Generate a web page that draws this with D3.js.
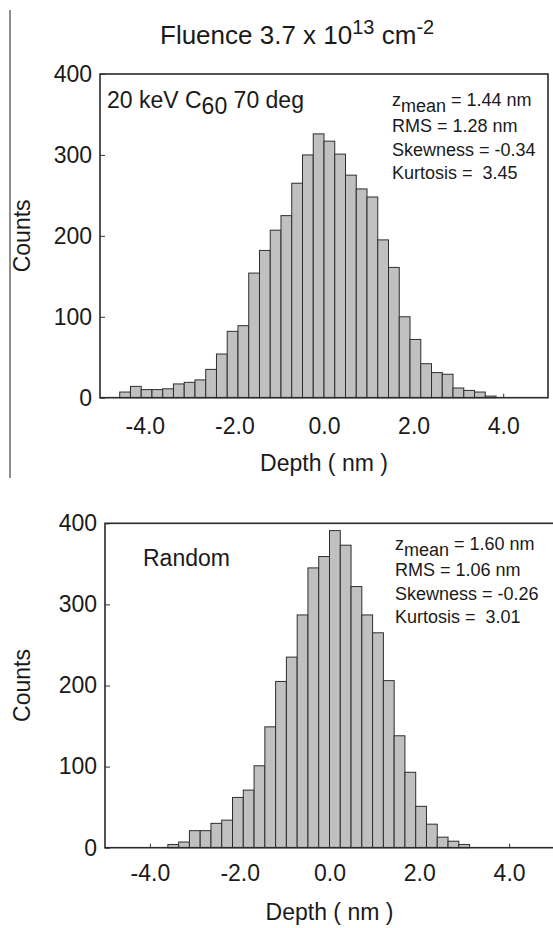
<!DOCTYPE html>
<html>
<head>
<meta charset="utf-8">
<script src="https://cdn.jsdelivr.net/npm/d3@7"></script>
<style>
  html, body { margin: 0; padding: 0; background: #ffffff; }
  svg text { font-family: "Liberation Sans", Arial, sans-serif; fill: #1a1a1a; white-space: pre; }
</style>
</head>
<body>
<div id="chart"></div>
<script>
// Histogram data (counts per 0.24 nm depth bin)
const binWidth = 0.24

const topBinStart = -4.56
const topCounts = [7, 14, 10, 10, 11, 17, 19, 22, 35, 54, 82, 89, 154, 182, 207,
  225, 265, 300, 326, 317, 301, 275, 258, 248, 195, 161, 100, 72, 42, 31,
  29, 12, 9, 7, 2]

const bottomBinStart = -3.60
const bottomCounts = [4, 7, 21, 21, 30, 34, 62, 71, 101, 149, 205, 235, 287, 345,
  359, 391, 373, 322, 287, 265, 206, 138, 93, 51, 29, 13, 8, 4]

const xTicks = [-4, -2, 0, 2, 4]
const yTicks = [0, 100, 200, 300, 400]

const topStats = ['= 1.44 nm', 'RMS = 1.28 nm', 'Skewness = -0.34', 'Kurtosis =  3.45']
const bottomStats = ['= 1.60 nm', 'RMS = 1.06 nm', 'Skewness = -0.26', 'Kurtosis =  3.01']

const width = 553
const height = 928

const svg = d3.select('#chart')
  .append('svg')
  .attr('width', width)
  .attr('height', height)

svg.append('rect')
  .attr('width', width)
  .attr('height', height)
  .attr('fill', '#ffffff')

// stray border line at the left of the upper panel
svg.append('line')
  .attr('x1', 10).attr('x2', 10)
  .attr('y1', 10).attr('y2', 478)
  .attr('stroke', '#444')
  .attr('stroke-width', 1.2)

// Title
const title = svg.append('text')
  .attr('x', 160)
  .attr('y', 44)
  .attr('font-size', '26px')
title.append('tspan').text('Fluence 3.7 x 10')
title.append('tspan').attr('dy', -10).attr('font-size', '20px').text('13')
title.append('tspan').attr('dy', 10).text(' cm')
title.append('tspan').attr('dy', -10).attr('font-size', '20px').text('-2')

function drawPanel(opts) {
  const x = d3.scaleLinear().domain([-5, 5]).range([opts.left, opts.right])
  const y = d3.scaleLinear().domain([0, 400]).range([opts.bottom, opts.top])

  const g = svg.append('g')

  // Axes (inward ticks, no domain line - the frame is drawn afterwards)
  const yAxis = g.append('g')
    .attr('transform', `translate(${opts.left},0)`)
    .call(d3.axisLeft(y).tickValues(yTicks).tickSize(-5).tickPadding(8).tickFormat(d => d))
  const xAxis = g.append('g')
    .attr('transform', `translate(0,${opts.bottom})`)
    .call(d3.axisBottom(x).tickValues(xTicks).tickSize(-4).tickPadding(opts.xPad).tickFormat(d => d.toFixed(1)))

  for (const ax of [xAxis, yAxis]) {
    ax.select('.domain').remove()
    ax.selectAll('line').attr('stroke', '#333').attr('stroke-width', 1)
    ax.selectAll('text')
      .attr('font-size', '23px')
      .attr('font-family', '"Liberation Sans", Arial, sans-serif')
      .attr('fill', '#1a1a1a')
  }

  // Bars
  g.append('g')
    .selectAll('rect')
    .data(opts.counts)
    .join('rect')
    .attr('x', (d, i) => x(opts.binStart + i * binWidth))
    .attr('width', x(binWidth) - x(0))
    .attr('y', d => y(d))
    .attr('height', d => y(0) - y(d))
    .attr('fill', '#c0c0c0')
    .attr('stroke', '#2e2e2e')
    .attr('stroke-width', 1)

  // Frame
  g.append('rect')
    .attr('x', opts.left)
    .attr('y', opts.top)
    .attr('width', opts.right - opts.left)
    .attr('height', opts.bottom - opts.top)
    .attr('fill', 'none')
    .attr('stroke', '#2a2a2a')
    .attr('stroke-width', 1.6)

  // Axis titles
  g.append('text')
    .attr('transform', `translate(22,${(opts.top + opts.bottom) / 2}) rotate(-90)`)
    .attr('text-anchor', 'middle')
    .attr('dy', '0.35em')
    .attr('font-size', '23px')
    .text('Counts')

  g.append('text')
    .attr('x', (opts.left + opts.right) / 2)
    .attr('y', opts.xTitleY)
    .attr('text-anchor', 'middle')
    .attr('font-size', '23px')
    .text('Depth ( nm )')

  // Label in the upper left corner
  const lab = g.append('text')
    .attr('x', opts.labelX)
    .attr('y', opts.labelY)
    .attr('font-size', '23px')
  opts.label(lab)

  // Statistics block
  const stats = g.append('g').attr('font-size', '18px')
  const zl = stats.append('text').attr('x', opts.statsX).attr('y', opts.statsY)
  zl.append('tspan').text('z')
  zl.append('tspan').attr('dy', 6).text('mean')
  zl.append('tspan').attr('dy', -6).text(' ' + opts.stats[0])
  opts.stats.slice(1).forEach((s, i) => {
    stats.append('text')
      .attr('x', opts.statsX)
      .attr('y', opts.statsY + 26 + i * 23.5)
      .text(s)
  })
}

drawPanel({
  left: 100, right: 548, top: 74, bottom: 397.7,
  counts: topCounts, binStart: topBinStart,
  xPad: 20, xTitleY: 471,
  labelX: 107, labelY: 108,
  label: t => {
    t.append('tspan').text('20 keV C')
    t.append('tspan').attr('dy', 6).text('60')
    t.append('tspan').attr('dy', -6).text(' 70 deg')
  },
  stats: topStats, statsX: 392, statsY: 106
})

drawPanel({
  left: 105, right: 554, top: 523.3, bottom: 847.7,
  counts: bottomCounts, binStart: bottomBinStart,
  xPad: 17, xTitleY: 920,
  labelX: 143, labelY: 566,
  label: t => t.text('Random'),
  stats: bottomStats, statsX: 395, statsY: 550
})
</script>
</body>
</html>
